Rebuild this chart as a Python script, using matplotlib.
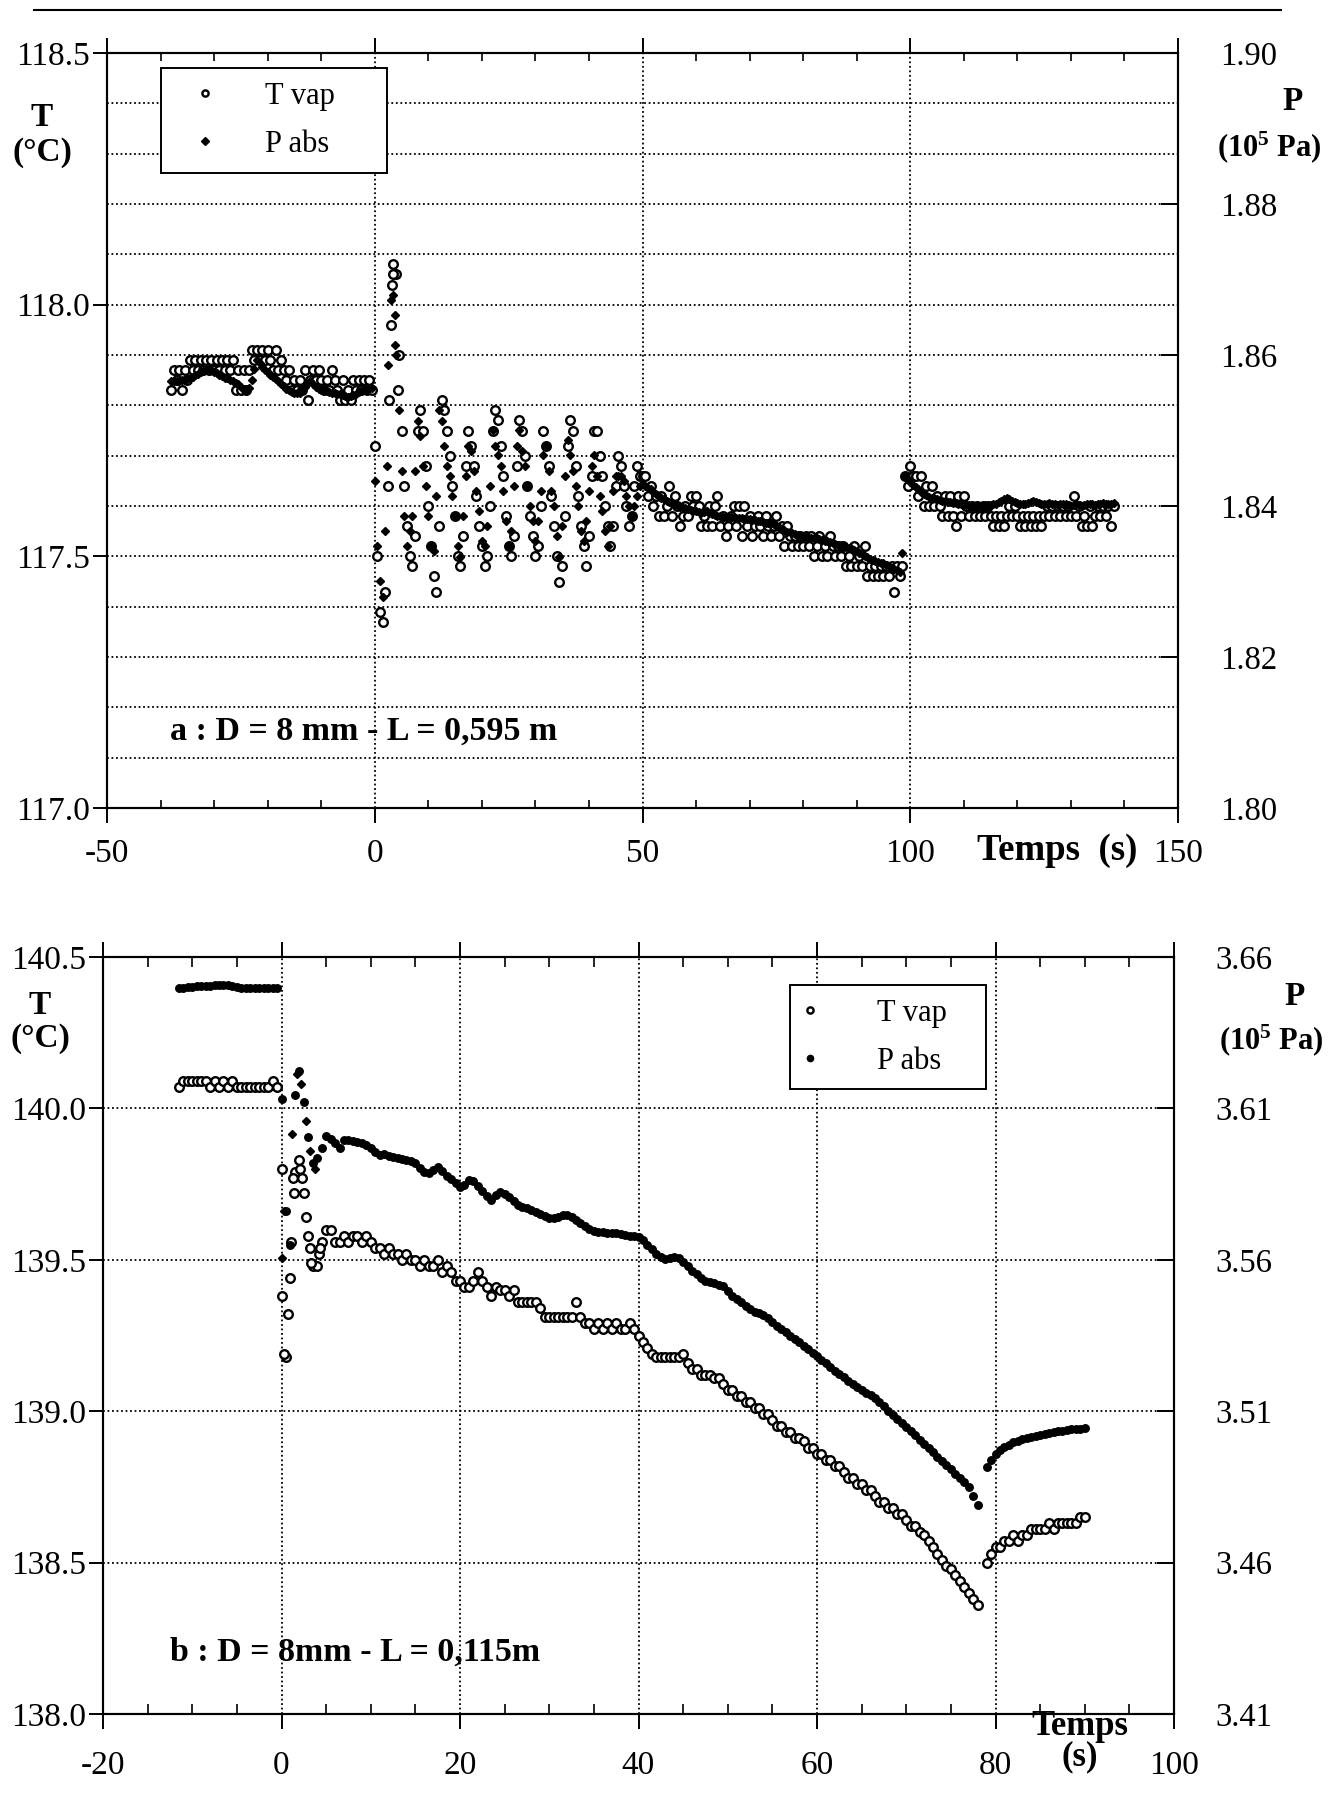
import numpy as np
import matplotlib
matplotlib.use("Agg")
import matplotlib.pyplot as plt
from matplotlib.lines import Line2D
from matplotlib.ticker import FixedLocator, MultipleLocator, FormatStrFormatter

plt.rcParams["font.family"] = ["Liberation Serif", "DejaVu Serif"]
plt.rcParams["mathtext.default"] = "regular"
plt.rcParams["axes.unicode_minus"] = False

# ---------------- run a : D = 8 mm, L = 0,595 m ----------------
# samples every 0.5 s starting at t = -38 s
t0_a, dt_a = -38.0, 0.5
tvap_a = [
    # -38 .. -0.5 s
    117.83, 117.87, 117.85, 117.87, 117.83, 117.87, 117.85, 117.89, 117.87, 117.89,
    117.87, 117.89, 117.87, 117.89, 117.87, 117.89, 117.87, 117.89, 117.87, 117.89,
    117.87, 117.89, 117.87, 117.89, 117.83, 117.87, 117.83, 117.87, 117.83, 117.87,
    117.91, 117.89, 117.91, 117.89, 117.91, 117.89, 117.91, 117.89, 117.87, 117.91,
    117.87, 117.89, 117.87, 117.85, 117.87, 117.83, 117.85, 117.83, 117.85, 117.83,
    117.87, 117.81, 117.85, 117.87, 117.85, 117.87, 117.85, 117.83, 117.85, 117.83,
    117.87, 117.85, 117.83, 117.81, 117.85, 117.81, 117.83, 117.81, 117.85, 117.83,
    117.85, 117.83, 117.85, 117.83, 117.85, 117.83,
    # 0 .. 49.5 s
    117.72, 117.50, 117.39, 117.37, 117.43, 117.64, 117.96, 118.08, 118.06, 117.90,
    117.75, 117.64, 117.56, 117.50, 117.48, 117.54, 117.75, 117.79, 117.75, 117.68,
    117.60, 117.52, 117.46, 117.43, 117.56, 117.81, 117.79, 117.75, 117.70, 117.64,
    117.58, 117.50, 117.48, 117.54, 117.68, 117.75, 117.72, 117.68, 117.62, 117.56,
    117.52, 117.48, 117.50, 117.60, 117.75, 117.79, 117.77, 117.72, 117.66, 117.58,
    117.52, 117.50, 117.54, 117.68, 117.77, 117.75, 117.70, 117.64, 117.58, 117.54,
    117.50, 117.52, 117.60, 117.75, 117.72, 117.68, 117.62, 117.56, 117.50, 117.45,
    117.48, 117.58, 117.72, 117.77, 117.75, 117.68, 117.62, 117.56, 117.52, 117.48,
    117.54, 117.66, 117.75, 117.75, 117.70, 117.66, 117.60, 117.56, 117.52, 117.56,
    117.64, 117.70, 117.68, 117.64, 117.60, 117.56, 117.58, 117.64, 117.68, 117.66,
    # 50 .. 98.5 s
    117.66, 117.66, 117.62, 117.64, 117.60, 117.62, 117.58, 117.62, 117.58, 117.60,
    117.64, 117.58, 117.62, 117.60, 117.56, 117.58, 117.60, 117.58, 117.62, 117.60,
    117.62, 117.60, 117.56, 117.58, 117.56, 117.60, 117.56, 117.60, 117.62, 117.56,
    117.58, 117.54, 117.56, 117.58, 117.60, 117.56, 117.60, 117.54, 117.60, 117.56,
    117.58, 117.54, 117.56, 117.58, 117.56, 117.54, 117.58, 117.56, 117.54, 117.56,
    117.58, 117.54, 117.56, 117.52, 117.56, 117.54, 117.52, 117.54, 117.52, 117.54,
    117.52, 117.54, 117.52, 117.54, 117.50, 117.52, 117.54, 117.50, 117.52, 117.50,
    117.54, 117.52, 117.50, 117.52, 117.50, 117.52, 117.48, 117.50, 117.48, 117.52,
    117.48, 117.50, 117.48, 117.52, 117.46, 117.48, 117.46, 117.48, 117.46, 117.48,
    117.46, 117.48, 117.46, 117.48, 117.43, 117.48, 117.46, 117.48,
    # 99 .. 138 s
    117.66, 117.64, 117.68, 117.66, 117.66, 117.62, 117.66, 117.60, 117.64, 117.60,
    117.64, 117.60, 117.62, 117.60, 117.58, 117.62, 117.58, 117.62, 117.58, 117.56,
    117.62, 117.58, 117.62, 117.60, 117.58, 117.60, 117.58, 117.60, 117.58, 117.60,
    117.58, 117.60, 117.58, 117.56, 117.58, 117.56, 117.58, 117.56, 117.58, 117.60,
    117.58, 117.60, 117.58, 117.56, 117.58, 117.56, 117.58, 117.56, 117.58, 117.56,
    117.58, 117.56, 117.58, 117.60, 117.58, 117.60, 117.58, 117.60, 117.58, 117.60,
    117.58, 117.60, 117.58, 117.62, 117.58, 117.60, 117.56, 117.58, 117.56, 117.60,
    117.56, 117.58, 117.60, 117.58, 117.60, 117.58, 117.60, 117.56, 117.60,
]
pabs_a = [
    # -38 .. -0.5 s
    1.8565, 1.8565, 1.8566, 1.8566, 1.8567, 1.8567, 1.8568, 1.8569, 1.8571, 1.8573,
    1.8575, 1.8577, 1.8579, 1.8580, 1.8581, 1.8580, 1.8578, 1.8576, 1.8574, 1.8572,
    1.8570, 1.8569, 1.8567, 1.8565, 1.8563, 1.8561, 1.8558, 1.8555, 1.8552, 1.8556,
    1.8567, 1.8582, 1.8593, 1.8590, 1.8584, 1.8580, 1.8577, 1.8574, 1.8571, 1.8568,
    1.8565, 1.8562, 1.8559, 1.8555, 1.8553, 1.8551, 1.8550, 1.8550, 1.8550, 1.8553,
    1.8558, 1.8563, 1.8565, 1.8562, 1.8558, 1.8555, 1.8554, 1.8553, 1.8552, 1.8551,
    1.8550, 1.8550, 1.8549, 1.8548, 1.8547, 1.8546, 1.8545, 1.8546, 1.8547, 1.8549,
    1.8551, 1.8552, 1.8553, 1.8554, 1.8555, 1.8556,
    # 0 .. 49.5 s
    1.8433, 1.8347, 1.8300, 1.8280, 1.8367, 1.8587, 1.8673, 1.8680, 1.8600, 1.8527,
    1.8447, 1.8387, 1.8347, 1.8367, 1.8387, 1.8447, 1.8513, 1.8493, 1.8453, 1.8427,
    1.8387, 1.8347, 1.8340, 1.8413, 1.8527, 1.8513, 1.8480, 1.8453, 1.8440, 1.8413,
    1.8387, 1.8347, 1.8333, 1.8387, 1.8440, 1.8480, 1.8473, 1.8447, 1.8420, 1.8393,
    1.8353, 1.8347, 1.8373, 1.8427, 1.8500, 1.8480, 1.8467, 1.8453, 1.8420, 1.8380,
    1.8347, 1.8367, 1.8427, 1.8480, 1.8500, 1.8473, 1.8453, 1.8427, 1.8400, 1.8380,
    1.8353, 1.8380, 1.8420, 1.8467, 1.8480, 1.8447, 1.8420, 1.8400, 1.8360, 1.8333,
    1.8373, 1.8440, 1.8487, 1.8467, 1.8447, 1.8427, 1.8400, 1.8367, 1.8353, 1.8380,
    1.8420, 1.8453, 1.8467, 1.8440, 1.8413, 1.8393, 1.8367, 1.8347, 1.8373, 1.8420,
    1.8440, 1.8440, 1.8440, 1.8433, 1.8413, 1.8400, 1.8387, 1.8400, 1.8413, 1.8427,
    # 50 .. 98.5 s
    1.8429, 1.8427, 1.8424, 1.8422, 1.8419, 1.8416, 1.8413, 1.8411, 1.8409, 1.8407,
    1.8405, 1.8404, 1.8403, 1.8401, 1.8399, 1.8398, 1.8397, 1.8396, 1.8395, 1.8394,
    1.8393, 1.8392, 1.8391, 1.8392, 1.8393, 1.8391, 1.8389, 1.8388, 1.8387, 1.8387,
    1.8386, 1.8386, 1.8385, 1.8385, 1.8385, 1.8384, 1.8384, 1.8384, 1.8383, 1.8383,
    1.8383, 1.8382, 1.8381, 1.8380, 1.8380, 1.8379, 1.8378, 1.8378, 1.8377, 1.8376,
    1.8374, 1.8372, 1.8370, 1.8368, 1.8366, 1.8365, 1.8364, 1.8363, 1.8362, 1.8361,
    1.8360, 1.8359, 1.8358, 1.8358, 1.8357, 1.8357, 1.8356, 1.8355, 1.8354, 1.8353,
    1.8352, 1.8351, 1.8350, 1.8349, 1.8348, 1.8347, 1.8346, 1.8345, 1.8344, 1.8342,
    1.8340, 1.8338, 1.8336, 1.8334, 1.8332, 1.8330, 1.8328, 1.8327, 1.8326, 1.8325,
    1.8324, 1.8322, 1.8320, 1.8318, 1.8316, 1.8315, 1.8313, 1.8338,
    # 99 .. 138 s
    1.8440, 1.8436, 1.8432, 1.8428, 1.8425, 1.8422, 1.8419, 1.8416, 1.8414, 1.8412,
    1.8411, 1.8410, 1.8409, 1.8408, 1.8407, 1.8406, 1.8405, 1.8405, 1.8404, 1.8404,
    1.8403, 1.8403, 1.8402, 1.8401, 1.8401, 1.8400, 1.8400, 1.8401, 1.8400, 1.8400,
    1.8401, 1.8400, 1.8401, 1.8402, 1.8403, 1.8405, 1.8407, 1.8409, 1.8410, 1.8409,
    1.8407, 1.8405, 1.8404, 1.8403, 1.8402, 1.8403, 1.8404, 1.8405, 1.8406, 1.8405,
    1.8404, 1.8403, 1.8402, 1.8403, 1.8404, 1.8403, 1.8402, 1.8401, 1.8402, 1.8403,
    1.8402, 1.8401, 1.8400, 1.8401, 1.8402, 1.8401, 1.8400, 1.8401, 1.8402, 1.8403,
    1.8402, 1.8401, 1.8402, 1.8403, 1.8404, 1.8403, 1.8402, 1.8403, 1.8404,
]
# extra points read in the fast transient just after t = 0
tvap_a_spike_t = [2.6, 3.2, 3.4, 4.3]
tvap_a_spike = [117.81, 118.04, 118.06, 117.83]
pabs_a_spike_t = [2.2, 3.7, 3.8]
pabs_a_spike = [1.8453, 1.8653, 1.8613]

# ---------------- run b : D = 8 mm, L = 0,115 m ----------------
# samples every 0.5 s starting at t = -11.5 s
t0_b, dt_b = -11.5, 0.5
tvap_b = [
    140.07, 140.09, 140.09, 140.09, 140.09, 140.09, 140.09, 140.07, 140.09, 140.07,
    140.09, 140.07, 140.09, 140.07, 140.07, 140.07, 140.07, 140.07, 140.07, 140.07,
    140.07, 140.09, 140.07, 139.80, 139.18, 139.44, 139.79, 139.83, 139.72, 139.58,
    139.48, 139.48, 139.56, 139.60, 139.60, 139.56, 139.56, 139.58, 139.56, 139.58,
    139.58, 139.56, 139.58, 139.56, 139.54, 139.54, 139.52, 139.54, 139.52, 139.52,
    139.50, 139.52, 139.50, 139.50, 139.48, 139.50, 139.48, 139.48, 139.50, 139.46,
    139.48, 139.46, 139.43, 139.43, 139.41, 139.41, 139.43, 139.46, 139.43, 139.41,
    139.38, 139.41, 139.40, 139.40, 139.38, 139.40, 139.36, 139.36, 139.36, 139.36,
    139.36, 139.34, 139.31, 139.31, 139.31, 139.31, 139.31, 139.31, 139.31, 139.36,
    139.31, 139.29, 139.29, 139.27, 139.29, 139.27, 139.29, 139.27, 139.29, 139.27,
    139.27, 139.29, 139.27, 139.25, 139.23, 139.21, 139.19, 139.18, 139.18, 139.18,
    139.18, 139.18, 139.18, 139.19, 139.16, 139.14, 139.14, 139.12, 139.12, 139.12,
    139.11, 139.11, 139.09, 139.07, 139.07, 139.05, 139.05, 139.03, 139.03, 139.01,
    139.01, 138.99, 138.99, 138.97, 138.95, 138.95, 138.93, 138.93, 138.91, 138.91,
    138.90, 138.88, 138.88, 138.86, 138.86, 138.84, 138.84, 138.82, 138.82, 138.80,
    138.78, 138.78, 138.76, 138.76, 138.74, 138.74, 138.72, 138.70, 138.70, 138.68,
    138.68, 138.66, 138.66, 138.64, 138.62, 138.62, 138.60, 138.59, 138.57, 138.55,
    138.53, 138.51, 138.49, 138.48, 138.46, 138.44, 138.42, 138.40, 138.38, 138.36,
    np.nan, 138.50, 138.53, 138.55, 138.55, 138.57, 138.57, 138.59, 138.57, 138.59,
    138.59, 138.61, 138.61, 138.61, 138.61, 138.63, 138.61, 138.63, 138.63, 138.63,
    138.63, 138.63, 138.65, 138.65,
]
pabs_b = [
    3.6496, 3.6499, 3.6501, 3.6502, 3.6503, 3.6503, 3.6504, 3.6505, 3.6507, 3.6509,
    3.6509, 3.6507, 3.6504, 3.6501, 3.6498, 3.6496, 3.6496, 3.6497, 3.6498, 3.6499,
    3.6499, 3.6498, 3.6498, 3.6130, 3.5760, 3.5650, 3.6143, 3.6224, 3.6120, 3.6005,
    3.5920, 3.5937, 3.5970, 3.6008, 3.6000, 3.5986, 3.5968, 3.5995, 3.5996, 3.5993,
    3.5990, 3.5986, 3.5978, 3.5970, 3.5955, 3.5947, 3.5948, 3.5944, 3.5941, 3.5937,
    3.5934, 3.5930, 3.5926, 3.5921, 3.5903, 3.5889, 3.5887, 3.5898, 3.5907, 3.5892,
    3.5878, 3.5866, 3.5852, 3.5841, 3.5848, 3.5865, 3.5860, 3.5843, 3.5828, 3.5812,
    3.5797, 3.5815, 3.5825, 3.5816, 3.5806, 3.5794, 3.5781, 3.5774, 3.5770, 3.5765,
    3.5758, 3.5750, 3.5744, 3.5738, 3.5737, 3.5742, 3.5747, 3.5748, 3.5741, 3.5730,
    3.5720, 3.5710, 3.5702, 3.5696, 3.5693, 3.5691, 3.5690, 3.5688, 3.5687, 3.5685,
    3.5682, 3.5680, 3.5677, 3.5674, 3.5665, 3.5650, 3.5635, 3.5620, 3.5608, 3.5603,
    3.5606, 3.5610, 3.5605, 3.5592, 3.5578, 3.5563, 3.5552, 3.5540, 3.5530, 3.5526,
    3.5522, 3.5518, 3.5514, 3.5498, 3.5482, 3.5470, 3.5460, 3.5448, 3.5438, 3.5429,
    3.5423, 3.5418, 3.5407, 3.5395, 3.5383, 3.5372, 3.5361, 3.5350, 3.5338, 3.5327,
    3.5315, 3.5304, 3.5293, 3.5282, 3.5270, 3.5258, 3.5246, 3.5234, 3.5223, 3.5212,
    3.5201, 3.5190, 3.5180, 3.5170, 3.5161, 3.5152, 3.5144, 3.5130, 3.5116, 3.5102,
    3.5088, 3.5075, 3.5062, 3.5048, 3.5034, 3.5020, 3.5006, 3.4992, 3.4978, 3.4964,
    3.4950, 3.4936, 3.4922, 3.4908, 3.4894, 3.4880, 3.4865, 3.4850, 3.4820, 3.4790,
    np.nan, 3.4915, 3.4940, 3.4960, 3.4973, 3.4982, 3.4990, 3.4997, 3.5002, 3.5007,
    3.5012, 3.5016, 3.5019, 3.5022, 3.5025, 3.5029, 3.5031, 3.5034, 3.5036, 3.5038,
    3.5040, 3.5041, 3.5042, 3.5044,
]
tvap_b_spike_t = [0.1, 0.3, 0.75, 1.1, 1.3, 1.4, 2.1, 2.3, 2.7, 3.2, 3.35, 4.2, 4.3]
tvap_b_spike = [139.38, 139.19, 139.32, 139.56, 139.77, 139.72, 139.80, 139.77,
                139.64, 139.54, 139.49, 139.52, 139.54]
pabs_b_spike_t = [0.05, 0.3, 1.2, 1.7, 2.2, 2.8, 3.2, 3.7]
pabs_b_spike = [3.5605, 3.5760, 3.6017, 3.6213, 3.6180, 3.6060, 3.5960, 3.5900]

# axis ranges and tick values
xlim_a, xticks_a = (-50, 150), [-50, 0, 50, 100, 150]
tlim_a, tticks_a = (117.0, 118.5), [117.0, 117.5, 118.0, 118.5]
plim_a, pticks_a = (1.80, 1.90), [1.80, 1.82, 1.84, 1.86, 1.88, 1.90]
xlim_b, xticks_b = (-20, 100), [-20, 0, 20, 40, 60, 80, 100]
tlim_b, tticks_b = (138.0, 140.5), [138.0, 138.5, 139.0, 139.5, 140.0, 140.5]
plim_b, pticks_b = (3.41, 3.66), [3.41, 3.46, 3.51, 3.56, 3.61, 3.66]

# ---------------- figure ----------------
W, H = 1334, 1802
fig = plt.figure(figsize=(W / 100, H / 100), dpi=100)


def px_axes(left, top, right, bottom):
    return fig.add_axes([left / W, 1 - bottom / H, (right - left) / W, (bottom - top) / H])


dotted = dict(color="black", linestyle=(0, (1.0, 1.5)), linewidth=1.3)
circle = dict(linestyle="none", marker="o", markersize=6.2, markerfacecolor="white",
              markeredgecolor="black", markeredgewidth=1.7)
dot = dict(linestyle="none", marker="D", markersize=4.0, color="black")
FS = 24


def dress(ax, ax2, xlim, xticks, xminor, tlim, tticks, tminor, plim, pticks, xpad, minor_len):
    ax.set_xlim(*xlim)
    ax.set_ylim(*tlim)
    ax2.set_ylim(*plim)
    ax.xaxis.set_major_locator(FixedLocator(xticks))
    ax.xaxis.set_minor_locator(MultipleLocator(xminor))
    ax.yaxis.set_major_locator(FixedLocator(tticks))
    if tminor:
        ax.yaxis.set_minor_locator(MultipleLocator(tminor))
    ax2.yaxis.set_major_locator(FixedLocator(pticks))
    ax.xaxis.set_major_formatter(FormatStrFormatter("%d"))
    ax.yaxis.set_major_formatter(FormatStrFormatter("%.1f"))
    ax2.yaxis.set_major_formatter(FormatStrFormatter("%.2f"))
    ax.tick_params(axis="x", which="major", direction="out", length=11, width=1.4,
                   top=True, bottom=True, labelsize=FS, pad=xpad)
    ax.tick_params(axis="x", which="minor", direction="in", length=minor_len, width=1.2,
                   top=True, bottom=True)
    ax.tick_params(axis="y", which="major", direction="out", length=10, width=1.4,
                   left=True, right=False, labelsize=FS, pad=2)
    ax.tick_params(axis="y", which="minor", length=0)
    ax2.tick_params(axis="y", which="major", direction="in", length=12, width=1.4,
                    labelsize=23.5, pad=30)
    ax.grid(True, axis="y", which="both", **dotted)
    ax.grid(True, axis="x", which="major", **dotted)
    for a in (ax, ax2):
        for s in a.spines.values():
            s.set_linewidth(1.5)


def legend(ax2, handles, x0, ytop, width, hl, htp):
    leg = ax2.legend(handles, ["T vap", "P abs"], loc="upper left",
                     bbox_to_anchor=(x0, ytop, width, 0), mode="expand",
                     borderaxespad=0, borderpad=0.45, labelspacing=0.62,
                     handlelength=hl, handletextpad=htp, numpoints=1,
                     fontsize=22, fancybox=False, framealpha=1, edgecolor="black")
    leg.get_frame().set_linewidth(1.4)
    for h in leg.legend_handles:
        h.set_markersize(4.5)


# panel a
ax_a = px_axes(107, 53, 1178, 808)
ax2_a = ax_a.twinx()
ta = t0_a + dt_a * np.arange(len(tvap_a))
tp = t0_a + dt_a * np.arange(len(pabs_a))
lt, = ax_a.plot(ta, tvap_a, **circle)
ax_a.plot(tvap_a_spike_t, tvap_a_spike, **circle)
lp, = ax2_a.plot(tp, pabs_a, **dot)
ax2_a.plot(pabs_a_spike_t, pabs_a_spike, **dot)
dress(ax_a, ax2_a, xlim_a, xticks_a, 10, tlim_a, tticks_a, 0.1, plim_a, pticks_a, 11, 6)
legend(ax2_a, [lt, lp], 0.0504, 0.980, 0.211, 2.0, 0.95)
ax_a.text(0.059, 0.101, "a : D = 8 mm - L = 0,595 m", transform=ax_a.transAxes,
          fontsize=24.5, fontweight="bold", ha="left", va="center")
ax_a.text(0.887, -0.0557, "Temps  (s)", transform=ax_a.transAxes,
          fontsize=26.5, fontweight="bold", ha="center", va="center")

# panel b
ax_b = px_axes(103, 957, 1174, 1714)
ax2_b = ax_b.twinx()
tb = t0_b + dt_b * np.arange(len(tvap_b))
tpb = t0_b + dt_b * np.arange(len(pabs_b))
lt_b, = ax_b.plot(tb, tvap_b, **circle)
ax_b.plot(tvap_b_spike_t, tvap_b_spike, **circle)
dot_b = dict(dot, marker="o", markersize=5.4)
lp_b, = ax2_b.plot(tpb, pabs_b, **dot_b)
ax2_b.plot(pabs_b_spike_t, pabs_b_spike, **dict(dot, markersize=4.2))
dress(ax_b, ax2_b, xlim_b, xticks_b, 5, tlim_b, tticks_b, None, plim_b, pticks_b, 15, 7)
legend(ax2_b, [lt_b, lp_b], 0.6415, 0.963, 0.183, 0.4, 2.0)
ax_b.text(0.0626, 0.082, "b : D = 8mm - L = 0,115m", transform=ax_b.transAxes,
          fontsize=24.5, fontweight="bold", ha="left", va="center")
ax_b.text(0.912, -0.037, "Temps\n(s)", transform=ax_b.transAxes, linespacing=0.9,
          fontsize=25, fontweight="bold", ha="center", va="center")

# axis titles
for x, y, s, ha in [(42, 117, "T", "center"), (42, 152, "(°C)", "center"),
                    (40, 1005, "T", "center"), (40, 1038, "(°C)", "center"),
                    (1293, 101, "P", "center"), (1322, 147, "(10$^5$ Pa)", "right"),
                    (1295, 997, "P", "center"), (1324, 1040, "(10$^5$ Pa)", "right")]:
    size = 22 if "Pa" in s else FS
    fig.text(x / W, 1 - y / H, s, fontsize=size, fontweight="bold", ha=ha, va="center")

# rule above the figure
fig.add_artist(Line2D([34 / W, 1281 / W], [1 - 10 / H, 1 - 10 / H], color="black", lw=1.5))

fig.savefig("out.png", dpi=100)
